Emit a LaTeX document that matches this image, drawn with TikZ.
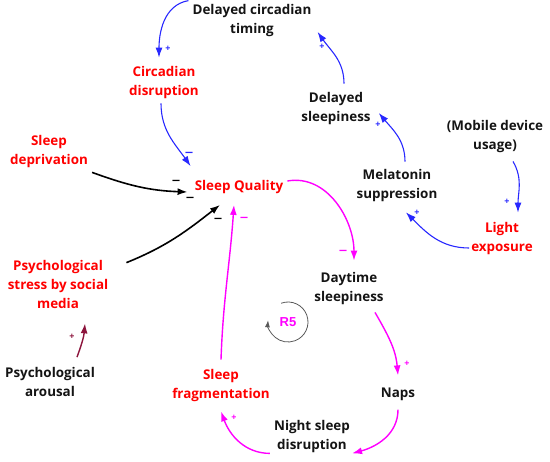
\documentclass[tikz,border=0pt]{standalone}
\usepackage{fontspec}
\setmainfont{Open Sans}
\newfontfamily\rfont{Liberation Sans}
\usepackage[]{tikz}
\usetikzlibrary{arrows.meta}
\definecolor{cldred}{RGB}{255,0,0}
\definecolor{cldblue}{RGB}{40,40,255}
\definecolor{cldmag}{RGB}{255,0,255}
\definecolor{cldmaroon}{RGB}{140,20,60}
\definecolor{cldtext}{RGB}{20,20,20}

\begin{document}
\begin{tikzpicture}[x=1pt,y=1pt,
            var/.style={font=\bfseries\fontsize{13.4}{19}\selectfont,align=center,inner sep=4pt,text=cldtext},
            key/.style={var,text=cldred},
            link/.style={-{Latex[length=10pt,width=7pt]},line width=1.1pt},
            pos sign/.style={font=\bfseries\fontsize{9}{9}\selectfont,inner sep=0pt},
            neg sign/.style={font=\fontsize{17}{17}\selectfont,inner sep=0pt}]
            \useasboundingbox (0,0) rectangle (550,-462);
            \node[var] (dct) at (252,-21) {Delayed circadian\\timing};
            \node[key] (cd) at (164,-83) {Circadian\\disruption};
            \node[key] (sd) at (49,-152) {Sleep\\deprivation};
            \node[key] (sq) at (239,-187) {Sleep Quality};
            \node[key] (pss) at (58,-284) {Psychological\\stress by social\\media};
            \node[var] (pa) at (50,-382) {Psychological\\arousal};
            \node[key] (sf) at (221,-386) {Sleep\\fragmentation};
            \node[var] (nsd) at (312,-437) {Night sleep\\disruption};
            \node[var] (naps) at (398,-394) {Naps};
            \node[var] (dts) at (349,-289) {Daytime\\sleepiness};
            \node[var] (ds) at (336,-109) {Delayed\\sleepiness};
            \node[var] (mdu) at (495,-137) {(Mobile device\\usage)};
            \node[var] (ms) at (397,-186) {Melatonin\\suppression};
            \node[key] (le) at (502,-239) {Light\\exposure};
            \node[font=\rfont\bfseries\fontsize{13}{13}\selectfont,text=cldmag,inner sep=1pt] (r5) at (288,-322) {R5};

            \draw[link,cldblue] (dct.north west) to[out=190,in=90] ([xshift=-5pt,yshift=5pt]cd.north);
            \draw[link,cldblue] ([xshift=-3pt]cd.south) to[out=270,in=125] ([yshift=10pt]sq.north west);
            \draw[link,black,line width=1.6pt] (sd.south east) to[out=-20,in=178] ([xshift=-3pt,yshift=-5pt]sq.west);
            \draw[link,black,line width=1.6pt] ([xshift=14pt,yshift=-7pt]pss.north east) to[out=22,in=218] ([xshift=-19pt,yshift=-7pt]sq.south);
            \draw[link,cldmag,line width=1.4pt] ([yshift=6pt]sf.north) to[out=88,in=266] ([xshift=-5pt,yshift=-7pt]sq.south);
            \draw[link,cldmag,line width=1.4pt] ([yshift=6pt]sq.east) to[out=10,in=90] ([xshift=5pt,yshift=8pt]dts.north);
            \draw[link,cldmag,line width=1.4pt] ([xshift=26pt,yshift=-3pt]dts.south) to[out=-60,in=95] ([yshift=8pt]naps.north);
            \draw[link,cldmag,line width=1.4pt] ([yshift=-5pt]naps.south) to[out=-90,in=15] ([xshift=-2pt,yshift=4pt]nsd.south east);
            \draw[link,cldmag,line width=1.4pt] ([yshift=4pt]nsd.south west) to[out=180,in=-70] ([yshift=-5pt]sf.south);
            \draw[link,cldmaroon,line width=1.4pt] ([xshift=27pt,yshift=6pt]pa.north) to[out=70,in=-95] ([xshift=27pt,yshift=-11pt]pss.south);
            \draw[link,cldblue] ([xshift=8pt,yshift=4pt]ms.north) to[out=90,in=-50] ([xshift=4pt,yshift=-4pt]ds.east);
            \draw[link,cldblue] ([xshift=8pt,yshift=5pt]ds.north) to[out=90,in=-55] ([xshift=2pt,yshift=-11pt]dct.east);
            \draw[link,cldblue] ([xshift=18pt,yshift=-4pt]mdu.south) to[out=-60,in=90] ([xshift=16pt,yshift=6pt]le.north);
            \draw[link,cldblue] ([xshift=2pt,yshift=-9pt]le.west) to[out=180,in=-45] ([xshift=9pt,yshift=-6pt]ms.south);
            \draw[-{Latex[length=7pt,width=5pt]},gray!70!black,line width=0.8pt] ([shift={(110:20)}]r5.center) arc[start angle=110,end angle=-185,radius=20];

            \node[pos sign,cldblue] (s1) at (168,-49) {+};
            \node[neg sign,cldblue] (s2) at (189,-155) {--};
            \node[neg sign] (s3) at (176,-183) {--};
            \node[neg sign] (s4) at (190,-200) {--};
            \node[neg sign] (s5) at (218,-221) {--};
            \node[neg sign,cldmag] (s6) at (244,-220) {--};
            \node[neg sign,cldmag] (s7) at (343,-253) {--};
            \node[pos sign,cldmag] (s8) at (407,-364) {+};
            \node[pos sign,cldmag] (s9) at (234,-418) {+};
            \node[pos sign,cldmaroon] (s10) at (72,-337) {+};
            \node[pos sign,cldblue] (s11) at (378,-125) {+};
            \node[pos sign,cldblue] (s12) at (322,-47) {+};
            \node[pos sign,cldblue] (s13) at (507,-202) {+};
            \node[pos sign,cldblue] (s14) at (417,-213) {+};
\end{tikzpicture}
\end{document}
